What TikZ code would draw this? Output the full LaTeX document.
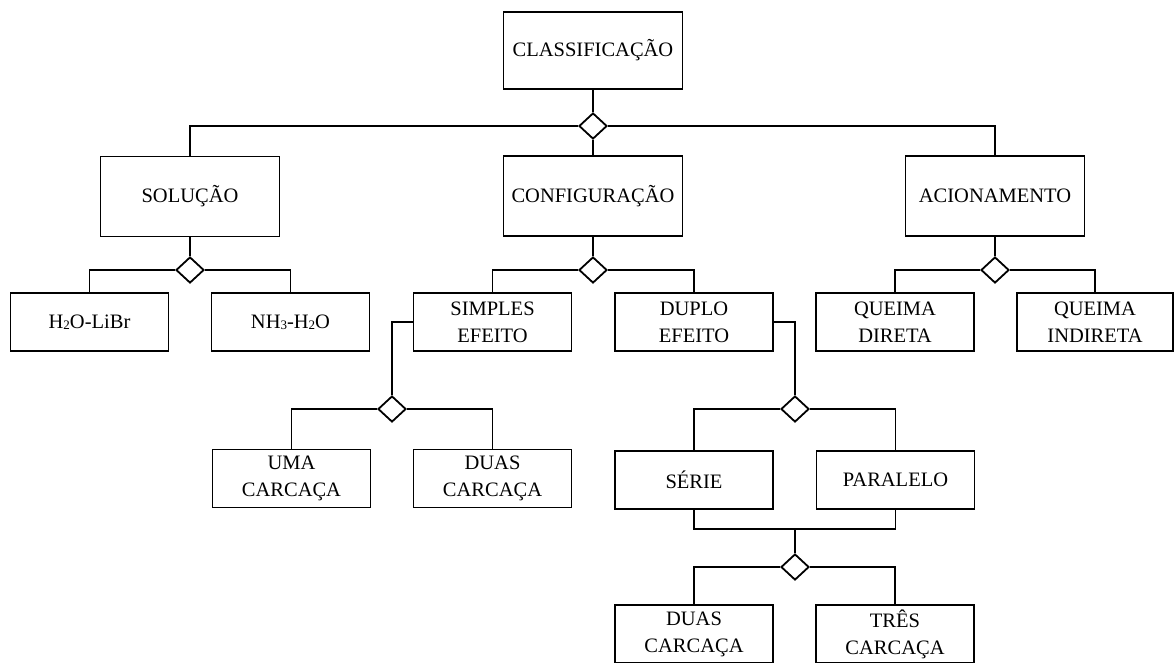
\documentclass[tikz,border=0pt]{standalone}
\usepackage{fontspec}
\setmainfont{Liberation Serif}
\usetikzlibrary{shapes.geometric}
\newcommand\chemsub[1]{\raisebox{-1pt}{\fontsize{13}{13}\selectfont #1}}
\tikzset{
  line/.style={line width=1.8pt},
  bigbox/.style={draw, line width=1.8pt, minimum width=179pt, minimum height=80pt,
                 inner sep=0pt, align=center, font=\fontsize{20.5}{27}\selectfont},
  smallbox/.style={draw, line width=1.8pt, minimum width=158pt, minimum height=58pt,
                   inner sep=0pt, align=center, font=\fontsize{20.5}{27}\selectfont},
  junction/.style={draw, diamond, line width=1.8pt, fill=white, inner sep=0pt,
                   minimum width=28pt, minimum height=26pt},
}
\begin{document}
\begin{tikzpicture}[x=1pt, y=-1pt]
\useasboundingbox (0,0) rectangle (1174,662);

% top level
\node[bigbox, minimum height=77pt] (cls) at (593,50.5) {CLASSIFICAÇÃO};
\node[junction] (d0) at (593,126) {};
\node[bigbox] (sol)  at (190,196.5) {SOLUÇÃO};
\node[bigbox] (conf) at (593,196) {CONFIGURAÇÃO};
\node[bigbox] (acio) at (995,196) {ACIONAMENTO};

% second level
\node[junction] (d1) at (190,270) {};
\node[junction] (d2) at (593,270) {};
\node[junction] (d3) at (995,270) {};
\node[smallbox] (h2o) at (89.5,322) {H\chemsub{2}O-LiBr};
\node[smallbox] (nh3) at (290.5,322) {NH\chemsub{3}-H\chemsub{2}O};
\node[smallbox] (simples) at (492.5,322) {SIMPLES\\EFEITO};
\node[smallbox] (duplo) at (694,322) {DUPLO\\EFEITO};
\node[smallbox] (direta) at (895,322) {QUEIMA\\DIRETA};
\node[smallbox, minimum width=156pt] (indireta) at (1095,322) {QUEIMA\\INDIRETA};

% single effect branch
\node[junction] (d4) at (392,409) {};
\node[smallbox] (uma) at (291.5,478.5) {UMA\\CARCAÇA};
\node[smallbox] (duas1) at (492.5,478.5) {DUAS\\CARCAÇA};

% double effect branch
\node[junction] (d5) at (795,409) {};
\node[smallbox] (serie) at (694,480) {SÉRIE};
\node[smallbox] (paralelo) at (895.5,480) {PARALELO};
\coordinate (join) at (795,529);
\node[junction] (d6) at (795,567) {};
\node[smallbox] (duas2) at (694,634) {DUAS\\CARCAÇA};
\node[smallbox] (tres) at (895,634) {TRÊS\\CARCAÇA};

% connectors
\draw[line] (cls) -- (d0);
\draw[line] (d0) -- (conf);
\draw[line] (d0.west) -| (sol);
\draw[line] (d0.east) -| (acio);

\draw[line] (sol) -- (d1);
\draw[line] (d1.west) -| (h2o);
\draw[line] (d1.east) -| (nh3);

\draw[line] (conf) -- (d2);
\draw[line] (d2.west) -| (simples);
\draw[line] (d2.east) -| (duplo);

\draw[line] (acio) -- (d3);
\draw[line] (d3.west) -| (direta);
\draw[line] (d3.east) -| (indireta);

\draw[line] (simples.west) -| (d4.north);
\draw[line] (d4.west) -| (uma);
\draw[line] (d4.east) -| (duas1);

\draw[line] (duplo.east) -| (d5.north);
\draw[line] (d5.west) -| (serie);
\draw[line] (d5.east) -| (paralelo);

\draw[line] (serie.south) |- (join) -| (paralelo.south);
\draw[line] (join) -- (d6.north);
\draw[line] (d6.west) -| (duas2);
\draw[line] (d6.east) -| (tres);
\end{tikzpicture}
\end{document}
